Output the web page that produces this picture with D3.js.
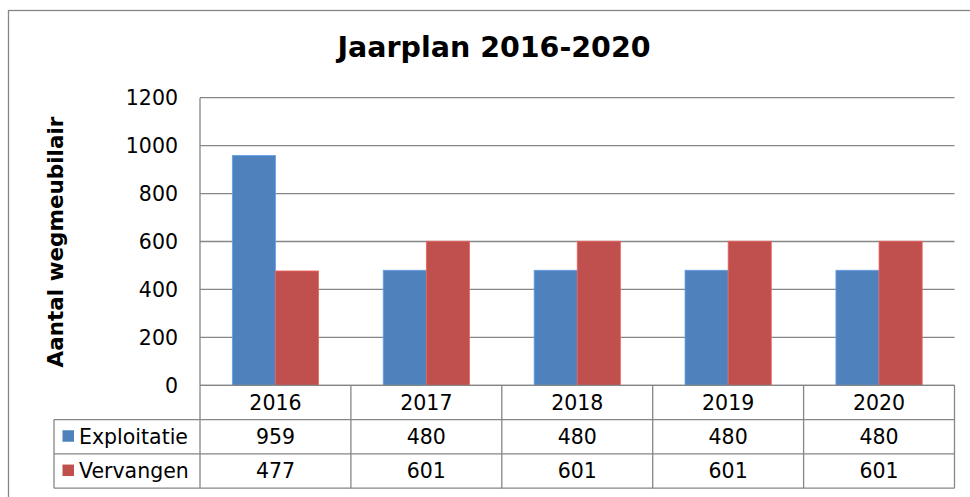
<!DOCTYPE html>
<html>
<head>
<meta charset="utf-8">
<script src="https://cdn.jsdelivr.net/npm/d3@7"></script>
<style>
  html, body { margin: 0; padding: 0; background: #fff; }
  svg { display: block; }
  text { font-family: "DejaVu Sans", Verdana, sans-serif; fill: #000; }
</style>
</head>
<body>
<svg id="chart" width="970" height="497"></svg>
<script>
const title = "Jaarplan 2016-2020";
const yAxisTitle = "Aantal wegmeubilair";
const categories = ["2016", "2017", "2018", "2019", "2020"];
const seriesNames = ["Exploitatie", "Vervangen"];
const exploitatie = [959, 480, 480, 480, 480];
const vervangen = [477, 601, 601, 601, 601];
const yTicks = [0, 200, 400, 600, 800, 1000, 1200];
const colors = ["#4F81BD", "#C0504D"];

const seriesValues = [exploitatie, vervangen];
const svg = d3.select("#chart");
const gridColor = "#868686";
const fs = 20.5;

const plot = { left: 200, right: 954.5, top: 97.7, bottom: 385.3 };
const rowH = 34.3;
const tableLeft = 54;

// outer frame
svg.append("rect")
  .attr("x", 8.5).attr("y", 10.5)
  .attr("width", 990).attr("height", 520)
  .attr("fill", "none").attr("stroke", gridColor).attr("stroke-width", 1.3);

// title
svg.append("text")
  .attr("x", 494).attr("y", 57)
  .attr("text-anchor", "middle")
  .attr("font-size", 28.5).attr("font-weight", "bold")
  .text(title);

const x = d3.scaleBand().domain(categories).range([plot.left, plot.right]).paddingInner(0).paddingOuter(0);
const y = d3.scaleLinear().domain([0, 1200]).range([plot.bottom, plot.top]);
const xs = d3.scaleBand().domain(seriesNames).range([0, x.bandwidth()]).paddingInner(0).paddingOuter(0.75);

// gridlines
svg.append("g").selectAll("line").data(yTicks).join("line")
  .attr("x1", plot.left).attr("x2", plot.right)
  .attr("y1", d => y(d)).attr("y2", d => y(d))
  .attr("stroke", gridColor).attr("stroke-width", 1.3);

// bars
const groups = svg.append("g").selectAll("g").data(categories).join("g")
  .attr("transform", d => `translate(${x(d)},0)`);
groups.selectAll("rect")
  .data((c, i) => seriesNames.map((s, k) => ({ s, k, v: seriesValues[k][i] })))
  .join("rect")
  .attr("x", d => xs(d.s))
  .attr("width", xs.bandwidth())
  .attr("y", d => y(d.v))
  .attr("height", d => y(0) - y(d.v))
  .attr("fill", d => colors[d.k])
  .attr("stroke", d => d3.color(colors[d.k]).brighter(0.6))
  .attr("stroke-width", 0.8);

// y axis line
svg.append("line")
  .attr("x1", plot.left).attr("x2", plot.left)
  .attr("y1", plot.top).attr("y2", plot.bottom)
  .attr("stroke", gridColor).attr("stroke-width", 1.3);

// y tick labels
svg.append("g").selectAll("text").data(yTicks).join("text")
  .attr("x", 178).attr("y", d => y(d))
  .attr("dy", "0.36em")
  .attr("text-anchor", "end")
  .attr("font-size", fs)
  .text(d => d);

// y axis title
svg.append("text")
  .attr("transform", `translate(63,242) rotate(-90)`)
  .attr("text-anchor", "middle")
  .attr("font-size", 21.5).attr("font-weight", "bold")
  .text(yAxisTitle);

// data table
const table = svg.append("g");
const lineAttr = sel => sel.attr("stroke", gridColor).attr("stroke-width", 1.3).attr("fill", "none");
const r0 = plot.bottom, r1 = r0 + rowH, r2 = r1 + rowH, r3 = r2 + rowH;
[[plot.left, r0], [tableLeft, r1], [tableLeft, r2], [tableLeft, r3]].forEach(([x0, yy]) => {
  table.append("line").attr("x1", x0).attr("x2", plot.right).attr("y1", yy).attr("y2", yy).call(lineAttr);
});
table.append("line").attr("x1", tableLeft).attr("x2", tableLeft).attr("y1", r1).attr("y2", r3).call(lineAttr);
const vx = categories.map(c => x(c)).concat([plot.right]);
table.selectAll("line.v").data(vx).join("line").attr("class", "v")
  .attr("x1", d => d).attr("x2", d => d).attr("y1", r0).attr("y2", r3).call(lineAttr);

// header (categories)
table.selectAll("text.cat").data(categories).join("text").attr("class", "cat")
  .attr("x", d => x(d) + x.bandwidth() / 2).attr("y", (r0 + r1) / 2)
  .attr("dy", "0.36em").attr("text-anchor", "middle").attr("font-size", fs)
  .text(d => d);

// series rows
seriesNames.forEach((name, k) => {
  const top = k === 0 ? r1 : r2;
  const cy = top + rowH / 2;
  table.append("rect")
    .attr("x", 62.5).attr("y", cy - 6.5).attr("width", 11.5).attr("height", 11.5)
    .attr("fill", colors[k]);
  table.append("text")
    .attr("x", 79).attr("y", cy).attr("dy", "0.36em")
    .attr("font-size", fs).text(name);
  table.selectAll("text.v" + k).data(seriesValues[k]).join("text").attr("class", "v" + k)
    .attr("x", (d, i) => x(categories[i]) + x.bandwidth() / 2).attr("y", cy)
    .attr("dy", "0.36em").attr("text-anchor", "middle").attr("font-size", fs)
    .text(d => d);
});
</script>
</body>
</html>
